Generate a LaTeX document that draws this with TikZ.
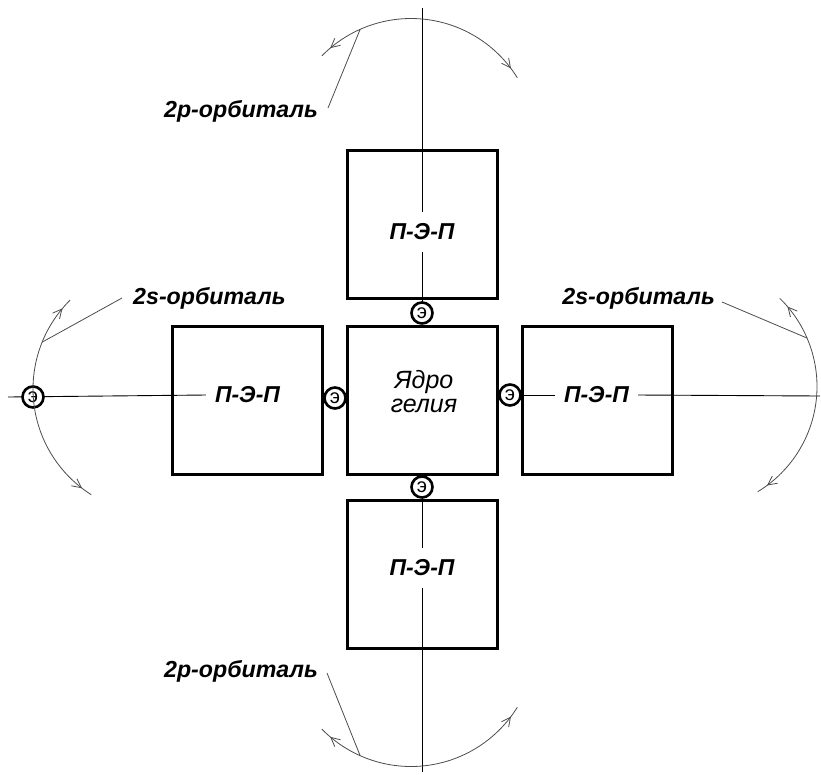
\documentclass[tikz,border=0pt]{standalone}
\usepackage{fontspec}
\setmainfont{Liberation Sans}
\usetikzlibrary{arrows.meta,calc,decorations.markings}
\begin{document}
\begin{tikzpicture}[x=1pt,y=-1pt,
  box/.style={draw,line width=3pt,minimum width=150pt,minimum height=148pt,inner sep=0pt},
  pep/.style={font=\fontsize{23}{24}\selectfont\bfseries\itshape,inner xsep=9pt,inner ysep=12pt},
  elec/.style={circle,draw,fill=white,line width=2.6pt,minimum size=21pt,inner sep=0pt,font=\fontsize{20}{20}\selectfont},
  lbl/.style={font=\fontsize{23.2}{24}\selectfont\bfseries\itshape,inner sep=0pt},
  axis/.style={line width=0.9pt},
  leader/.style={draw=black!70,line width=0.8pt},
  orbit/.style={draw=black!70,line width=0.8pt,postaction={decorate},
    decoration={markings,
      mark=at position 0.05 with {\arrowreversed{Straight Barb[length=9pt,width=9pt]}},
      mark=at position 0.95 with {\arrow{Straight Barb[length=9pt,width=9pt]}}}}
]
\useasboundingbox (0,0) rectangle (821,774);
% boxes
\node[box] (bT) at (422,224.5) {};
\node[box] (bC) at (422,400) {};
\node[box] (bL) at (247,400) {};
\node[box] (bR) at (597,400) {};
\node[box] (bB) at (422,574) {};
% texts in boxes
\node[pep] (tT) at (422,232) {П-Э-П};
\node[pep] (tL) at (247.5,395) {П-Э-П};
\node[pep] (tR) at (596.5,395) {П-Э-П};
\node[pep] (tB) at (422,568) {П-Э-П};
\node[font=\fontsize{25}{24}\selectfont\itshape,align=center] (tC) at (424,392) {Ядро\\гелия};
% axis ends
\coordinate (vtop) at (422,8);
\coordinate (vbot) at (422,772);
\coordinate (hleft) at (8,397);
\coordinate (hright) at (820,396);
% electrons positions
\coordinate (pT) at (422,313);
\coordinate (pB) at (422,487);
\coordinate (pL) at (335,398);
\coordinate (pR) at (510,395);
\coordinate (pF) at (33,397);
% axis lines
\draw[axis] (vtop) -- (tT.north);
\draw[axis] (tT.south) -- (pT);
\draw[axis] (pB) -- (tB.north);
\draw[axis] (tB.south) -- (vbot);
\draw[axis] (hleft) -- (tL.west);
\draw[axis] (pR) -- (tR.west);
\draw[axis] (tR.east) -- (hright);
% electrons
\node[elec] (cT) at (pT) {э};
\node[elec] (cB) at (pB) {э};
\node[elec] (cL) at (pL) {э};
\node[elec] (cR) at (pR) {э};
\node[elec] (cF) at (pF) {э};
% orbits
\draw[orbit] (411,143.5) ++(-135.5:125) arc[start angle=-135.5,end angle=-31.7,radius=125];
\draw[orbit] (411,641.5) ++(135.5:125) arc[start angle=135.5,end angle=31.7,radius=125];
\draw[orbit] (158,389) ++(225.3:125) arc[start angle=225.3,end angle=122.3,radius=125];
\draw[orbit] (694,386.5) ++(-45.8:123) arc[start angle=-45.8,end angle=58.8,radius=123];
\coordinate (aT) at ($(411,143.5)+(-114:125)$);
\coordinate (aB) at ($(411,641.5)+(114:125)$);
\coordinate (aL) at ($(158,389)+(202:125)$);
\coordinate (aR) at ($(694,386.5)+(-23.2:123)$);
% labels
\node[lbl,anchor=base east] (lT) at (318,117) {2p-орбиталь};
\node[lbl,anchor=base west] (lL) at (133,304) {2s-орбиталь};
\node[lbl,anchor=base east] (lR) at (715,304) {2s-орбиталь};
\node[lbl,anchor=base east] (lB) at (318,677) {2p-орбиталь};
\draw[leader] ([shift={(10,-9)}]lT.base east) -- (aT);
\draw[leader] ([shift={(-11,-6)}]lL.base west) -- (aL);
\draw[leader] ([shift={(7,-2)}]lR.base east) -- (aR);
\draw[leader] ([shift={(9,-4)}]lB.base east) -- (aB);
\end{tikzpicture}
\end{document}
